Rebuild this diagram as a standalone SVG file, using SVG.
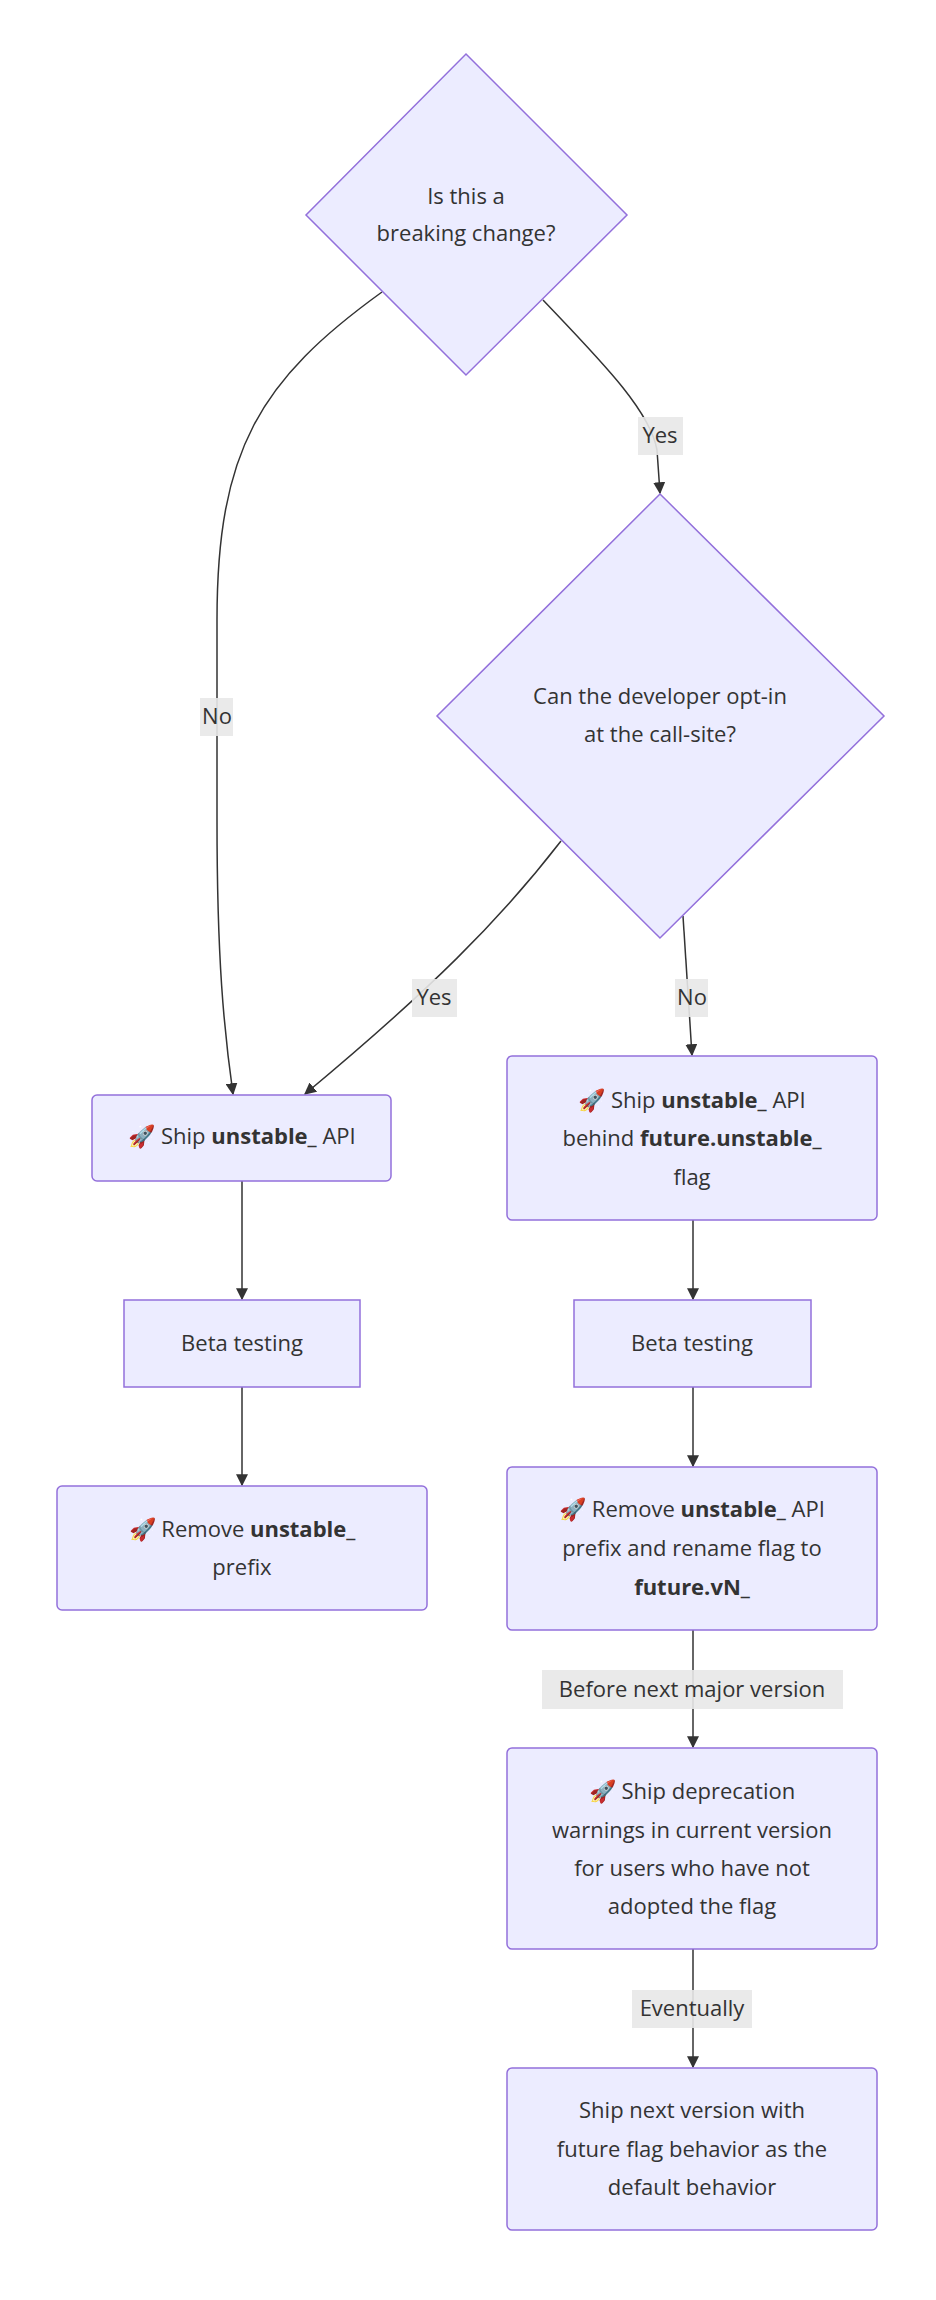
<svg xmlns="http://www.w3.org/2000/svg" width="936" height="2300" viewBox="0 0 936 2300">
<style>
.n{fill:#ECECFF;stroke:#9370DB;stroke-width:1.5}
.t{font-family:"Open Sans","DejaVu Sans",sans-serif;font-size:22px;fill:#333;text-anchor:middle}
.b{font-weight:bold}
.e{fill:none;stroke:#333;stroke-width:1.5}
.lb{fill:#e8e8e8;opacity:0.9}
</style>
<defs><marker id="ah" viewBox="0 0 10 10" refX="9" refY="5" markerWidth="8" markerHeight="8" orient="auto"><path d="M0,0 L10,5 L0,10 z" fill="#333"/></marker></defs>
<rect width="936" height="2300" fill="#fff"/>
<g id="edges">
<path class="e" marker-end="url(#ah)" d="M382,292 C260,380 217,450 217,620 L217,820 C217,960 224,1030 233,1094"/>
<path class="e" marker-end="url(#ah)" d="M543,300 C600,360 650,410 657,450 L660,493"/>
<path class="e" marker-end="url(#ah)" d="M561,841 C500,920 430,990 305,1094"/>
<path class="e" marker-end="url(#ah)" d="M683,916 L692,1055"/>
<path class="e" marker-end="url(#ah)" d="M242,1181 L242,1299"/>
<path class="e" marker-end="url(#ah)" d="M242,1387 L242,1485"/>
<path class="e" marker-end="url(#ah)" d="M693,1220 L693,1299"/>
<path class="e" marker-end="url(#ah)" d="M693,1387 L693,1466"/>
<path class="e" marker-end="url(#ah)" d="M693,1630 L693,1747"/>
<path class="e" marker-end="url(#ah)" d="M693,1949 L693,2067"/>
<rect class="lb" x="200" y="698" width="33" height="38"/><text class="t" x="217" y="724">No</text>
<rect class="lb" x="638" y="417" width="45" height="38"/><text class="t" x="660" y="443">Yes</text>
<rect class="lb" x="412" y="979" width="45" height="38"/><text class="t" x="434" y="1005">Yes</text>
<rect class="lb" x="675" y="979" width="33" height="38"/><text class="t" x="692" y="1005">No</text>
<rect class="lb" x="542" y="1670" width="301" height="39"/><text class="t" x="692" y="1697">Before next major version</text>
<rect class="lb" x="632" y="1990" width="120" height="38"/><text class="t" x="692" y="2016">Eventually</text>
</g>
<g id="q1"><polygon class="n" points="466,54 627,215 466,375 306,215"/>
<text class="t" x="466" y="204">Is this a</text><text class="t" x="466" y="241">breaking change?</text></g>
<g id="q2"><polygon class="n" points="660,494 884,716 660,938 437,716"/>
<text class="t" x="660" y="704">Can the developer opt-in</text><text class="t" x="660" y="742">at the call-site?</text></g>
<g id="a1"><rect class="n" x="92" y="1095" width="299" height="86" rx="5"/>
<text class="t" x="242" y="1144">🚀 Ship <tspan class="b">unstable_</tspan> API</text></g>
<g id="b1"><rect class="n" x="507" y="1056" width="370" height="164" rx="5"/>
<text class="t" x="692" y="1108">🚀 Ship <tspan class="b">unstable_</tspan> API</text>
<text class="t" x="692" y="1146">behind <tspan class="b">future.unstable_</tspan></text>
<text class="t" x="692" y="1185">flag</text></g>
<g id="a2"><rect class="n" x="124" y="1300" width="236" height="87"/>
<text class="t" x="242" y="1351">Beta testing</text></g>
<g id="b2"><rect class="n" x="574" y="1300" width="237" height="87"/>
<text class="t" x="692" y="1351">Beta testing</text></g>
<g id="a3"><rect class="n" x="57" y="1486" width="370" height="124" rx="5"/>
<text class="t" x="242" y="1537">🚀 Remove <tspan class="b">unstable_</tspan></text>
<text class="t" x="242" y="1575">prefix</text></g>
<g id="b3"><rect class="n" x="507" y="1467" width="370" height="163" rx="5"/>
<text class="t" x="692" y="1517">🚀 Remove <tspan class="b">unstable_</tspan> API</text>
<text class="t" x="692" y="1556">prefix and rename flag to</text>
<text class="t b" x="692" y="1595">future.vN_</text></g>
<g id="b4"><rect class="n" x="507" y="1748" width="370" height="201" rx="5"/>
<text class="t" x="692" y="1799">🚀 Ship deprecation</text>
<text class="t" x="692" y="1838">warnings in current version</text>
<text class="t" x="692" y="1876">for users who have not</text>
<text class="t" x="692" y="1914">adopted the flag</text></g>
<g id="b5"><rect class="n" x="507" y="2068" width="370" height="162" rx="5"/>
<text class="t" x="692" y="2118">Ship next version with</text>
<text class="t" x="692" y="2157">future flag behavior as the</text>
<text class="t" x="692" y="2195">default behavior</text></g>
</svg>
